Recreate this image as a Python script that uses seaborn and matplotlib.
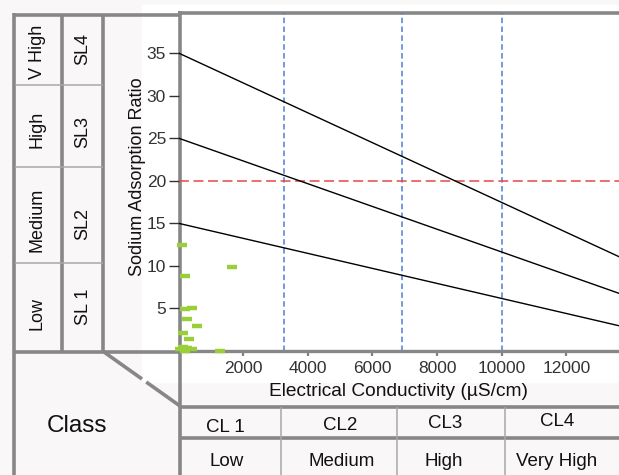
import matplotlib
matplotlib.use("Agg")
import matplotlib.pyplot as plt
from matplotlib.patches import Rectangle
import numpy as np
import pandas as pd
import seaborn as sns

# Sample measurements: electrical conductivity (uS/cm) and sodium adsorption ratio
ec_samples = [99, 1644, 192, 200, 408, 272, 562, 130, 334, 148, 253, 408, 46, 200, 1282]
sar_samples = [12.45, 9.9, 8.77, 4.93, 5.09, 3.79, 2.94, 2.08, 1.44, 0.43, 0.32, 0.2, 0.2, 0.04, 0.04]

# Sodium hazard boundaries (straight lines between two EC values)
boundary_names = ["S4/S3", "S3/S2", "S2/S1"]
boundary_ec = [0, 14000]
boundary_sar_start = [35, 25, 15]
boundary_sar_end = [10.43, 6.28, 2.64]

# Salinity class limits and the SAR reference level
salinity_limits = [3250, 6920, 10000]
sar_reference = 20

y_ticks = [5, 10, 15, 20, 25, 30, 35]
x_ticks = [2000, 4000, 6000, 8000, 10000, 12000]

sodium_levels = ["V High", "High", "Medium", "Low"]
sodium_classes = ["SL4", "SL3", "SL2", "SL 1"]
salinity_classes = ["CL 1", "CL2", "CL3", "CL4"]
salinity_levels = ["Low", "Medium", "High", "Very High"]

sns.set_style("white")
plt.rcParams["font.family"] = ["Liberation Sans", "DejaVu Sans"]

W, H = 619, 475
fig = plt.figure(figsize=(W / 100, H / 100), dpi=100)
fig.patch.set_facecolor("#f9f7f8")

# Frame layer in pixel coordinates (y grows downward)
bg = fig.add_axes([0, 0, 1, 1], zorder=0)
bg.set_xlim(0, W)
bg.set_ylim(H, 0)
bg.axis("off")

# white canvas behind the diagram and its tick labels
bg.add_patch(Rectangle((142, 5), W - 142, 377, color="white", zorder=0))

thick = dict(color="#878787", lw=2.6, solid_capstyle="butt", zorder=2)
thin = dict(color="#a8a8a8", lw=1.1, solid_capstyle="butt", zorder=2)

bg.plot([13, 180], [14.5, 14.5], **thick)
bg.plot([178, W], [12.5, 12.5], **thick)
bg.plot([14, 14], [13, H], **thick)
bg.plot([62, 62], [14, 352], **thick)
bg.plot([103, 103], [14, 352], **thick)
bg.plot([180, 180], [11, H], **thick)
bg.plot([13, 180], [352, 352], **thick)
for yy in [85, 167, 263]:
    bg.plot([15, 103], [yy, yy], **thin)

# diagonal corner line, interrupted where it passes under the white canvas
def diag_y(x):
    return 352 + (x - 104) * (406 - 352) / (180 - 104)

bg.plot([104, 142], [352, diag_y(142)], **thick)
x_exit = 104 + (382 - 352) * (180 - 104) / (406 - 352)
bg.plot([x_exit, 180], [382, 406], **thick)

bg.plot([180, W], [407, 407], **thick)
bg.plot([180, W], [438, 438], **thick)
for xx in [281, 397, 505]:
    bg.plot([xx, xx], [407, H], **thin)

left_txt = dict(ha="center", va="center", fontsize=13, color="#111111", zorder=4)
for label, yy in zip(sodium_levels, [52, 129, 220, 313]):
    bg.text(37, yy, label, rotation=90, **left_txt)
for label, yy in zip(sodium_classes, [49, 132, 224, 307]):
    bg.text(83, yy, label, rotation=90, **left_txt)

bottom_txt = dict(ha="center", va="center", fontsize=13.5, color="#111111", zorder=4)
for label, xx, yy in zip(salinity_classes, [225, 340, 445, 557], [427, 425, 424, 422]):
    bg.text(xx, yy, label, **bottom_txt)
for label, xx in zip(salinity_levels, [227, 342, 444, 557]):
    bg.text(xx, 462, label, **bottom_txt)
bg.text(77, 426, "Class", ha="center", va="center", fontsize=17.5, color="#111111")

# Diagram axes
x0, x1, y0, y1 = 178.5, 619, 351, 12.5
ax = fig.add_axes([x0 / W, 1 - y0 / H, (x1 - x0) / W, (y0 - y1) / H], zorder=1)
ax.set_facecolor("none")

for x in salinity_limits:
    ax.axvline(x, color="#4a7fd6", lw=1.1, dashes=(3.6, 2.2))
ax.axhline(sar_reference, color="#e8474a", lw=1.1, dashes=(6.5, 3.0))

lines = pd.DataFrame({
    "ec": boundary_ec * len(boundary_names),
    "sar": [v for s, e in zip(boundary_sar_start, boundary_sar_end) for v in (s, e)],
    "line": [n for n in boundary_names for _ in boundary_ec],
})
sns.lineplot(data=lines, x="ec", y="sar", units="line", estimator=None,
             color="black", lw=1.0, ax=ax, legend=False)

samples = pd.DataFrame({"ec": ec_samples, "sar": sar_samples})
sns.scatterplot(data=samples, x="ec", y="sar", marker="_", s=52, linewidth=3.2,
                color="#9bcf3a", ax=ax, clip_on=False, zorder=5, legend=False)

ax.set_xlim(0, 13630)
ax.set_ylim(0, 39.76)
ax.set_xticks(x_ticks)
ax.set_xticklabels([str(t) for t in x_ticks])
ax.set_yticks(y_ticks)
ax.set_yticklabels([str(t) for t in y_ticks])
ax.tick_params(axis="x", direction="out", length=3.5, width=1.6, color="#808080",
               labelsize=12.5, labelcolor="#333333", pad=3.5, bottom=True)
ax.tick_params(axis="y", direction="out", length=7.5, width=1.0, color="#333333",
               labelsize=12.5, labelcolor="#333333", pad=1.5, left=True)
for side in ["left", "right", "top"]:
    ax.spines[side].set_visible(False)
ax.spines["bottom"].set_color("#878787")
ax.spines["bottom"].set_linewidth(2.4)

ax.set_xlabel("Electrical Conductivity (µS/cm)", fontsize=13.8, color="#111111", labelpad=5)
ax.set_ylabel("Sodium Adsorption Ratio", fontsize=13, color="#111111", labelpad=0.5)
ax.yaxis.label.set_y(0.514)

fig.savefig("out.png", dpi=100, facecolor=fig.get_facecolor())
